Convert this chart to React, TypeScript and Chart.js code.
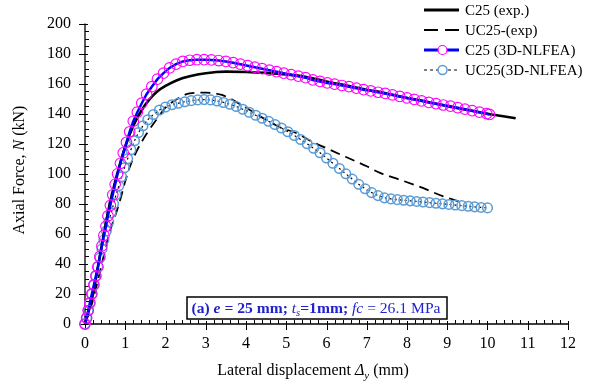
import React, { useEffect, useRef } from "react";
import { Chart, registerables } from "chart.js";

Chart.register(...registerables);

const FONT = '"Liberation Serif", "Times New Roman", serif';

// C25 (exp.)
const c25ExpX = [0, 0.2, 0.4, 0.6, 0.8, 1.0, 1.2, 1.4, 1.6, 1.8, 2.0, 2.3, 2.6, 3.0, 3.5, 4.0, 4.5, 5.0, 5.5, 6.0, 6.5, 7.0, 7.5, 8.0, 8.5, 9.0, 9.5, 10.0, 10.35, 10.7];
const c25ExpY = [0, 20, 50, 78, 100, 118, 132, 142, 149.5, 155, 158.5, 162.5, 165, 167, 168, 167.8, 167.2, 166.2, 164.5, 161.5, 158.8, 156, 153.5, 150.5, 148, 145, 142.5, 140, 138.5, 137];

// UC25-(exp)
const uc25ExpX = [0, 0.2, 0.4, 0.6, 0.8, 0.9, 1.0, 1.12, 1.3, 1.54, 1.8, 2.0, 2.3, 2.6, 3.0, 3.4, 4.0, 4.5, 4.84, 5.26, 5.67, 6.0, 6.5, 7.0, 7.33, 7.83, 8.3, 8.9, 9.3];
const uc25ExpY = [0, 16, 38, 60, 76, 85, 95, 105, 116, 127, 137, 144, 150, 153.5, 154, 152.5, 144, 136, 131, 127, 121, 117, 111, 105, 100.6, 96, 91.5, 85, 81.5];

// C25 (3D-NLFEA)
const c25FeaX = [0, 0.04, 0.08, 0.12, 0.17, 0.22, 0.27, 0.32, 0.37, 0.42, 0.47, 0.52, 0.57, 0.63, 0.69, 0.75, 0.81, 0.88, 0.95, 1.03, 1.11, 1.2, 1.3, 1.41, 1.53, 1.66, 1.8, 1.95, 2.1, 2.26, 2.43, 2.6, 2.78, 2.96, 3.14, 3.32, 3.5, 3.68, 3.86, 4.04, 4.22, 4.4, 4.58, 4.76, 4.94, 5.12, 5.3, 5.48, 5.66, 5.84, 6.02, 6.2, 6.38, 6.56, 6.74, 6.92, 7.1, 7.28, 7.46, 7.64, 7.82, 8.0, 8.18, 8.36, 8.54, 8.72, 8.9, 9.08, 9.26, 9.44, 9.62, 9.8, 9.98, 10.05];
const c25FeaY = [0, 4, 9, 14, 20, 26, 32, 38, 45, 52, 59, 65, 72, 79, 86, 93, 100, 107, 114, 121, 128, 135, 141, 147, 153, 158, 163, 167, 170.5, 173, 174.8, 175.6, 176, 176, 175.8, 175.4, 174.8, 174, 173, 172, 171, 170, 169, 168, 167, 166, 165, 164, 162.5, 161.5, 160.5, 159.7, 158.8, 158, 157, 156, 155.2, 154.3, 153.5, 152.5, 151.5, 150.5, 149.5, 148.5, 147.5, 146.7, 145.8, 145, 144, 143, 142, 141, 140, 139.5];

// UC25(3D-NLFEA)
const uc25FeaX = [0, 0.04, 0.08, 0.12, 0.17, 0.22, 0.27, 0.32, 0.37, 0.42, 0.47, 0.53, 0.59, 0.65, 0.71, 0.77, 0.84, 0.91, 0.98, 1.06, 1.14, 1.23, 1.33, 1.44, 1.56, 1.7, 1.85, 2.0, 2.16, 2.32, 2.48, 2.64, 2.8, 2.96, 3.12, 3.28, 3.44, 3.6, 3.76, 3.92, 4.08, 4.24, 4.4, 4.56, 4.72, 4.88, 5.04, 5.2, 5.36, 5.52, 5.68, 5.84, 6.0, 6.16, 6.32, 6.48, 6.64, 6.8, 6.96, 7.12, 7.28, 7.44, 7.6, 7.76, 7.92, 8.08, 8.24, 8.4, 8.56, 8.72, 8.88, 9.04, 9.2, 9.36, 9.52, 9.68, 9.84, 10.0];
const uc25FeaY = [0, 4, 9, 14, 20, 26, 32, 38, 44, 50, 56, 62, 68, 74, 80, 86, 92, 98, 104, 110, 116, 122, 127.5, 132, 136, 139.5, 142.5, 144.5, 146, 147, 148, 148.7, 149.2, 149.4, 149.2, 148.5, 147.5, 146.3, 144.8, 143, 141, 139, 137, 135, 132.8, 130.5, 128, 125.5, 122.8, 120, 117, 114, 110.5, 107, 103.5, 100, 96.5, 93, 90, 87.5, 85.5, 84, 83.3, 82.8, 82.4, 82, 81.6, 81.2, 80.8, 80.4, 80, 79.6, 79.2, 78.8, 78.4, 78, 77.6, 77.3];

const xMin = 0, xMax = 12, xStep = 1, xMinorStep = 0.2;
const yMin = 0, yMax = 200, yStep = 20, yMinorStep = 5;

const seriesNames = ["C25 (exp.)", "UC25-(exp)", "C25 (3D-NLFEA)", "UC25(3D-NLFEA)"];

const zip = (xs: number[], ys: number[]) => xs.map((x, i) => ({ x, y: ys[i] }));

type Seg = { t: string; b?: boolean; i?: boolean; sub?: boolean };

function drawSegs(ctx: CanvasRenderingContext2D, x: number, y: number, segs: Seg[], size: number, draw = true) {
  let cx = x;
  for (const s of segs) {
    const fs = s.sub ? size * 0.68 : size;
    ctx.font = `${s.i ? "italic " : ""}${s.b ? "bold " : ""}${fs}px ${FONT}`;
    if (draw) ctx.fillText(s.t, cx, y + (s.sub ? size * 0.22 : 0));
    cx += ctx.measureText(s.t).width;
  }
  return cx - x;
}

const axesPlugin = {
  id: "customAxes",
  beforeDatasetsDraw(chart: any) {
    const ctx = chart.ctx as CanvasRenderingContext2D;
    const xs = chart.scales.x;
    const ys = chart.scales.y;
    const a = chart.chartArea;
    ctx.save();
    ctx.strokeStyle = "#000";
    ctx.lineWidth = 1.3;
    ctx.beginPath();
    ctx.moveTo(a.left, a.top);
    ctx.lineTo(a.left, a.bottom);
    ctx.lineTo(a.right, a.bottom);
    ctx.stroke();
    ctx.lineWidth = 1;
    ctx.beginPath();
    for (let v = yMin; v <= yMax + 1e-9; v += yMinorStep) {
      const py = Math.round(ys.getPixelForValue(v)) + 0.5;
      const major = Math.abs(v / yStep - Math.round(v / yStep)) < 1e-6;
      if (major) {
        ctx.moveTo(a.left - 6, py);
        ctx.lineTo(a.left + 3, py);
      } else {
        ctx.moveTo(a.left, py);
        ctx.lineTo(a.left + 4, py);
      }
    }
    for (let v = xMin; v <= xMax + 1e-9; v += xMinorStep) {
      const px = Math.round(xs.getPixelForValue(v)) + 0.5;
      const major = Math.abs(v / xStep - Math.round(v / xStep)) < 1e-6;
      if (major) {
        ctx.moveTo(px, a.bottom - 3);
        ctx.lineTo(px, a.bottom + 6);
      } else {
        ctx.moveTo(px, a.bottom);
        ctx.lineTo(px, a.bottom - 4);
      }
    }
    ctx.stroke();
    ctx.restore();
  },
};

const overlayPlugin = {
  id: "overlay",
  afterDraw(chart: any) {
    const ctx = chart.ctx as CanvasRenderingContext2D;
    ctx.save();
    ctx.fillStyle = "#000";
    ctx.textBaseline = "alphabetic";
    ctx.textAlign = "left";

    // Axis titles
    const xt: Seg[] = [{ t: "Lateral displacement " }, { t: "Δ", i: true }, { t: "y", i: true, sub: true }, { t: " (mm)" }];
    const xw = drawSegs(ctx, 0, 0, xt, 16, false);
    drawSegs(ctx, 313 - xw / 2, 375, xt, 16);

    const yt: Seg[] = [{ t: "Axial Force, " }, { t: "N", i: true }, { t: " (kN)" }];
    ctx.save();
    ctx.translate(24, 170);
    ctx.rotate(-Math.PI / 2);
    const yw = drawSegs(ctx, 0, 0, yt, 16, false);
    drawSegs(ctx, -yw / 2, 0, yt, 16);
    ctx.restore();

    // Legend
    const lx0 = 424, lx1 = 459, tx = 465;
    const rows = [10, 30, 50, 70];
    ctx.font = `15px ${FONT}`;
    rows.forEach((ry, i) => {
      ctx.save();
      ctx.beginPath();
      if (i === 0) {
        ctx.strokeStyle = "#000"; ctx.lineWidth = 2.8; ctx.setLineDash([]);
      } else if (i === 1) {
        ctx.strokeStyle = "#000"; ctx.lineWidth = 2; ctx.setLineDash([14, 7]);
      } else if (i === 2) {
        ctx.strokeStyle = "#0000ff"; ctx.lineWidth = 2.8; ctx.setLineDash([]);
      } else {
        ctx.strokeStyle = "#000"; ctx.lineWidth = 1; ctx.setLineDash([3, 3]);
      }
      ctx.moveTo(lx0, ry);
      ctx.lineTo(lx1, ry);
      ctx.stroke();
      ctx.setLineDash([]);
      if (i === 2 || i === 3) {
        ctx.beginPath();
        ctx.arc((lx0 + lx1) / 2 + 1, ry, 4.5, 0, Math.PI * 2);
        ctx.strokeStyle = i === 2 ? "#ff00ff" : "#5b9bd5";
        ctx.lineWidth = i === 2 ? 1.2 : 1.5;
        ctx.fillStyle = "#fff";
        ctx.fill();
        ctx.stroke();
      }
      ctx.restore();
      ctx.fillStyle = "#000";
      ctx.font = `15px ${FONT}`;
      ctx.fillText(seriesNames[i], tx, ry + 5);
    });

    // Annotation box
    ctx.fillStyle = "#fff";
    ctx.fillRect(187, 297, 260, 22);
    ctx.strokeStyle = "#000";
    ctx.lineWidth = 1.5;
    ctx.strokeRect(187, 297, 260, 22);
    ctx.fillStyle = "#2222cc";
    const at: Seg[] = [
      { t: "(a) ", b: true },
      { t: "e", b: true, i: true },
      { t: " = 25 mm; ", b: true },
      { t: "t", i: true },
      { t: "s", i: true, sub: true },
      { t: "=1mm; ", b: true },
      { t: "fc", i: true },
      { t: " = 26.1 MPa" },
    ];
    const aw = drawSegs(ctx, 0, 0, at, 15.6, false);
    drawSegs(ctx, 316 - aw / 2, 313, at, 15.6);
    ctx.restore();
  },
};

export default function App() {
  const ref = useRef<HTMLCanvasElement>(null);
  useEffect(() => {
    if (!ref.current) return;
    const chart = new Chart(ref.current, {
      type: "line",
      data: {
        datasets: [
          {
            label: seriesNames[2],
            data: zip(c25FeaX, c25FeaY),
            borderColor: "#0000ff",
            borderWidth: 2.5,
            pointRadius: 5.3,
            pointStyle: "circle",
            pointBorderColor: "#ff00ff",
            pointBackgroundColor: "rgba(0,0,0,0)",
            pointBorderWidth: 1.1,
            tension: 0,
            clip: false,
            order: 0,
          } as any,
          {
            label: seriesNames[0],
            data: zip(c25ExpX, c25ExpY),
            borderColor: "#000",
            borderWidth: 2.6,
            pointRadius: 0,
            cubicInterpolationMode: "monotone",
            clip: false,
            order: 1,
          } as any,
          {
            label: seriesNames[3],
            data: zip(uc25FeaX, uc25FeaY),
            borderColor: "#000",
            borderWidth: 1.2,
            borderDash: [2, 3],
            pointRadius: 4.8,
            pointStyle: "circle",
            pointBorderColor: "#5b9bd5",
            pointBackgroundColor: "rgba(0,0,0,0)",
            pointBorderWidth: 1.5,
            tension: 0,
            clip: false,
            order: 2,
          } as any,
          {
            label: seriesNames[1],
            data: zip(uc25ExpX, uc25ExpY),
            borderColor: "#000",
            borderWidth: 1.8,
            borderDash: [10, 6],
            pointRadius: 0,
            cubicInterpolationMode: "monotone",
            clip: false,
            order: 3,
          } as any,
        ],
      },
      options: {
        animation: false,
        responsive: true,
        maintainAspectRatio: false,
        events: [],
        layout: { padding: { left: 0, right: 35, top: 13, bottom: 0 } },
        plugins: { legend: { display: false }, tooltip: { enabled: false } },
        scales: {
          x: {
            type: "linear",
            min: xMin,
            max: xMax,
            ticks: { stepSize: xStep, color: "#000", font: { family: FONT, size: 16 }, padding: 10, maxRotation: 0 },
            grid: { display: false, drawTicks: false },
            border: { display: false },
            afterFit: (s: any) => { s.height = 61; },
          },
          y: {
            type: "linear",
            min: yMin,
            max: yMax,
            ticks: { stepSize: yStep, color: "#000", font: { family: FONT, size: 16 }, padding: 14 },
            grid: { display: false, drawTicks: false },
            border: { display: false },
            afterFit: (s: any) => { s.width = 85; },
          },
        },
      } as any,
      plugins: [axesPlugin, overlayPlugin],
    });
    return () => chart.destroy();
  }, []);
  return (
    <div style={{ position: "fixed", left: 0, top: 0, width: 603, height: 385, background: "#fff" }}>
      <canvas ref={ref} />
    </div>
  );
}
